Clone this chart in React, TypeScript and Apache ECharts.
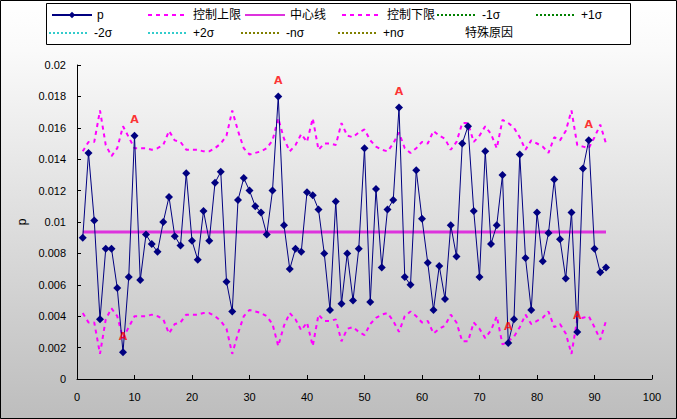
import React, { useEffect, useRef } from "react";
import * as echarts from "echarts";

const pValues: number[] = [
  0.0090, 0.0144, 0.0101, 0.0038, 0.0083, 0.0083, 0.0058, 0.0017, 0.0065, 0.0155,
  0.0063, 0.0092, 0.0086, 0.0081, 0.0100, 0.0116, 0.0091, 0.0085, 0.0131, 0.0088,
  0.0076, 0.0107, 0.0088, 0.0125, 0.0132, 0.0062, 0.0043, 0.0114, 0.0128, 0.0120,
  0.0110, 0.0106, 0.0092, 0.0120, 0.0180, 0.0098, 0.0070, 0.0083, 0.0081, 0.0119,
  0.0117, 0.0108, 0.0080, 0.0044, 0.0113, 0.0048, 0.0080, 0.0050, 0.0083, 0.0147,
  0.0049, 0.0121, 0.0071, 0.0108, 0.0114, 0.0173, 0.0065, 0.0060, 0.0133, 0.0102,
  0.0074, 0.0044, 0.0072, 0.0051, 0.0098, 0.0078, 0.0150, 0.0161, 0.0107, 0.0065,
  0.0145, 0.0086, 0.0098, 0.0130, 0.0023, 0.0038, 0.0143, 0.0077, 0.0044, 0.0106,
  0.0075, 0.0093, 0.0127, 0.0089, 0.0064, 0.0106, 0.0030, 0.0134, 0.0152, 0.0083,
  0.0068, 0.0071,
];

const uclValues: number[] = [
  0.0145, 0.0151, 0.0151, 0.0171, 0.0149, 0.0142, 0.0147, 0.0161, 0.0154, 0.0147,
  0.0147, 0.0147, 0.0146, 0.0147, 0.0149, 0.0158, 0.0152, 0.0151, 0.0146, 0.0146,
  0.0146, 0.0145, 0.0145, 0.0147, 0.0150, 0.0155, 0.0171, 0.0158, 0.0147, 0.0143,
  0.0144, 0.0145, 0.0147, 0.0152, 0.0166, 0.0153, 0.0145, 0.0149, 0.0156, 0.0151,
  0.0166, 0.0146, 0.0150, 0.0150, 0.0149, 0.0163, 0.0155, 0.0154, 0.0157, 0.0159,
  0.0152, 0.0148, 0.0146, 0.0145, 0.0150, 0.0157, 0.0147, 0.0144, 0.0147, 0.0151,
  0.0150, 0.0158, 0.0155, 0.0153, 0.0146, 0.0151, 0.0163, 0.0163, 0.0151, 0.0155,
  0.0161, 0.0156, 0.0147, 0.0165, 0.0163, 0.0160, 0.0154, 0.0146, 0.0152, 0.0150,
  0.0148, 0.0144, 0.0154, 0.0152, 0.0158, 0.0171, 0.0149, 0.0148, 0.0147, 0.0154,
  0.0162, 0.0150,
];

const lclValues: number[] = [
  0.0042, 0.0036, 0.0036, 0.0016, 0.0038, 0.0045, 0.0040, 0.0026, 0.0033, 0.0040,
  0.0040, 0.0040, 0.0041, 0.0040, 0.0038, 0.0029, 0.0035, 0.0036, 0.0041, 0.0041,
  0.0041, 0.0042, 0.0042, 0.0040, 0.0037, 0.0032, 0.0016, 0.0029, 0.0040, 0.0044,
  0.0043, 0.0042, 0.0040, 0.0035, 0.0021, 0.0034, 0.0042, 0.0038, 0.0031, 0.0036,
  0.0021, 0.0041, 0.0037, 0.0037, 0.0038, 0.0024, 0.0032, 0.0033, 0.0030, 0.0028,
  0.0035, 0.0039, 0.0041, 0.0042, 0.0037, 0.0030, 0.0040, 0.0043, 0.0040, 0.0036,
  0.0037, 0.0029, 0.0032, 0.0034, 0.0041, 0.0036, 0.0024, 0.0024, 0.0036, 0.0032,
  0.0026, 0.0031, 0.0040, 0.0022, 0.0024, 0.0027, 0.0033, 0.0041, 0.0035, 0.0037,
  0.0039, 0.0043, 0.0033, 0.0035, 0.0029, 0.0016, 0.0038, 0.0039, 0.0040, 0.0033,
  0.0025, 0.0037,
];

const centerValue = 0.00936;
const specialIndices: number[] = [8, 10, 35, 56, 75, 87, 89];

const legendNames: string[] = [
  "p", "控制上限", "中心线", "控制下限", "-1σ", "+1σ",
  "-2σ", "+2σ", "-nσ", "+nσ", "特殊原因",
];

const FONT = "'Liberation Sans', 'Noto Sans CJK SC', sans-serif";

export default function App() {
  const ref = useRef<HTMLDivElement>(null);

  useEffect(() => {
    if (!ref.current) return;
    const chart = echarts.init(ref.current, undefined, { renderer: "svg" });

    const pData = pValues.map((v, i) => [i + 1, v]);
    const uclData = uclValues.map((v, i) => [i + 1, v]);
    const lclData = lclValues.map((v, i) => [i + 1, v]);
    const centerData = [
      [1, centerValue],
      [pValues.length, centerValue],
    ];
    const specialData = specialIndices.map((idx) => [idx, pValues[idx - 1]]);

    const row1 = 9;
    const row2 = 27;
    const legendPos: { left: number; top: number }[] = [
      { left: 51, top: row1 },
      { left: 147, top: row1 },
      { left: 244, top: row1 },
      { left: 341, top: row1 },
      { left: 436, top: row1 },
      { left: 535, top: row1 },
      { left: 48, top: row2 },
      { left: 147, top: row2 },
      { left: 240, top: row2 },
      { left: 337, top: row2 },
      { left: 436, top: row2 },
    ];

    const hidden = { color: "rgba(0,0,0,0)", borderWidth: 0, opacity: 0 };

    const legends = legendNames.map((name, k) => ({
      show: true,
      left: legendPos[k].left,
      top: legendPos[k].top,
      padding: 0,
      itemWidth: 40,
      itemHeight: 8,
      selectedMode: false,
      textStyle: { color: "#000", fontSize: 12, fontFamily: FONT },
      data: [name === "p" ? name : { name, itemStyle: hidden }],
    }));

    const dotted = (name: string, color: string) => ({
      name,
      type: "line",
      data: [],
      symbol: "none",
      lineStyle: { color, width: 1, type: [2, 2] },
      itemStyle: { color },
    });

    chart.setOption({
      animation: false,
      backgroundColor: new echarts.graphic.LinearGradient(0, 0, 0, 1, [
        { offset: 0, color: "#ffffff" },
        { offset: 0.12, color: "#fafafa" },
        { offset: 1, color: "#bdbdbd" },
      ]),
      graphic: [
        {
          type: "rect",
          z: -1,
          shape: { x: 46.5, y: 3.5, width: 584, height: 41 },
          style: { fill: "#ffffff", stroke: "#000", lineWidth: 1 },
        },
        {
          type: "rect",
          z: 100,
          silent: true,
          shape: { x: 0.5, y: 0.5, width: 676, height: 418 },
          style: { fill: "none", stroke: "#000", lineWidth: 1 },
        },
      ],
      legend: legends,
      grid: { left: 77, right: 25, top: 65, bottom: 40, containLabel: false },
      xAxis: {
        type: "value",
        min: 0,
        max: 100,
        interval: 10,
        axisLine: { show: true, lineStyle: { color: "#000", width: 1 } },
        axisTick: { show: true, inside: true, length: 4, lineStyle: { color: "#000" } },
        axisLabel: { color: "#000", fontSize: 11, fontFamily: FONT, margin: 12 },
        splitLine: { show: false },
      },
      yAxis: {
        type: "value",
        min: 0,
        max: 0.02,
        interval: 0.002,
        name: "p",
        nameLocation: "middle",
        nameGap: 42,
        nameRotate: 90,
        nameTextStyle: { color: "#000", fontSize: 12, fontFamily: FONT },
        axisLine: { show: true, lineStyle: { color: "#000", width: 1 } },
        axisTick: { show: true, inside: true, length: 4, lineStyle: { color: "#000" } },
        axisLabel: { color: "#000", fontSize: 11, fontFamily: FONT, margin: 11 },
        splitLine: { show: false },
      },
      series: [
        {
          name: "p",
          type: "line",
          data: pData,
          z: 5,
          symbol: "diamond",
          symbolSize: 8,
          lineStyle: { color: "#000080", width: 1 },
          itemStyle: { color: "#000080" },
        },
        {
          name: "控制上限",
          type: "line",
          data: uclData,
          z: 3,
          symbol: "none",
          lineStyle: { color: "#ff00ff", width: 2, type: [4, 4] },
          itemStyle: { color: "#ff00ff" },
        },
        {
          name: "中心线",
          type: "line",
          data: centerData,
          z: 2,
          symbol: "none",
          lineStyle: { color: "#dd33dd", width: 3 },
          itemStyle: { color: "#dd33dd" },
        },
        {
          name: "控制下限",
          type: "line",
          data: lclData,
          z: 3,
          symbol: "none",
          lineStyle: { color: "#ff00ff", width: 2, type: [4, 4] },
          itemStyle: { color: "#ff00ff" },
        },
        dotted("-1σ", "#008000"),
        dotted("+1σ", "#008000"),
        dotted("-2σ", "#33cccc"),
        dotted("+2σ", "#33cccc"),
        dotted("-nσ", "#808000"),
        dotted("+nσ", "#808000"),
        {
          name: "特殊原因",
          type: "scatter",
          data: specialData,
          z: 6,
          symbolSize: 1,
          itemStyle: { color: "rgba(0,0,0,0)" },
          label: {
            show: true,
            position: "top",
            distance: 10,
            formatter: "A",
            color: "#ff0000",
            fontWeight: "bold",
            fontSize: 11,
            fontFamily: "'DejaVu Sans', sans-serif",
          },
        },
      ],
    });

    return () => chart.dispose();
  }, []);

  return (
    <div
      ref={ref}
      style={{ position: "fixed", left: 0, top: 0, width: 677, height: 419 }}
    />
  );
}
